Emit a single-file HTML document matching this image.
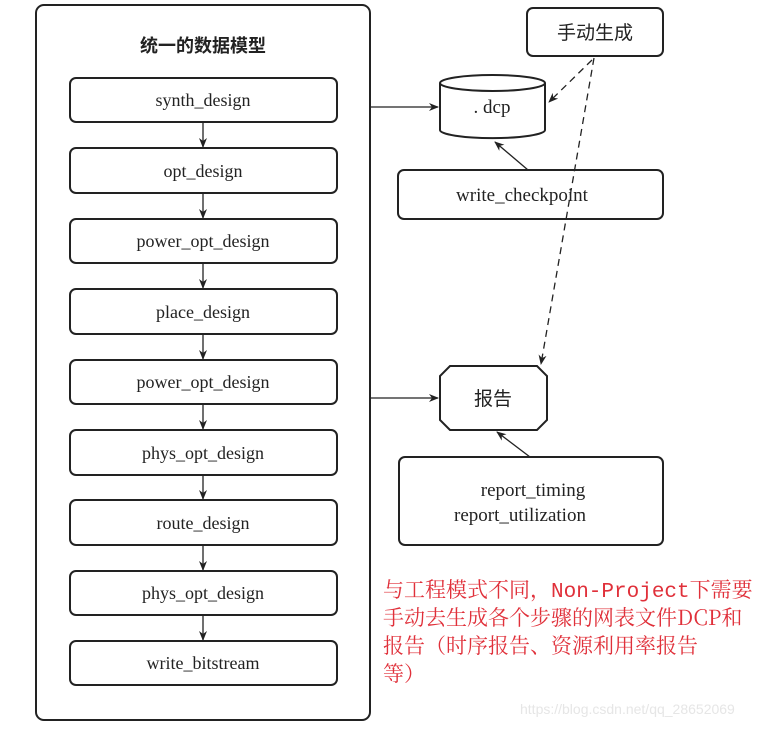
<!DOCTYPE html>
<html><head><meta charset="utf-8"><style>
body{margin:0;width:770px;height:729px;background:#fff;overflow:hidden}
</style></head><body>
<svg width="770" height="729" xmlns="http://www.w3.org/2000/svg" font-family="'Liberation Serif','Noto Serif CJK SC',serif" fill="none" stroke="#222">
<defs><marker id="a" markerWidth="10" markerHeight="8" refX="9" refY="4" orient="auto" markerUnits="userSpaceOnUse"><path d="M0,0 L10,4 L0,8 L3,4 z" fill="#222" stroke="none"/></marker></defs>
<rect x="36" y="5" width="334" height="715" rx="8" stroke-width="2"/>
<text x="203" y="52" font-size="18" font-weight="bold" fill="#222" stroke="none" text-anchor="middle" font-family="'Noto Sans CJK SC',sans-serif">统一的数据模型</text>
<g stroke-width="2">
<rect x="70" y="78" width="267" height="44" rx="6"/>
<rect x="70" y="148" width="267" height="45" rx="6"/>
<rect x="70" y="219" width="267" height="44" rx="6"/>
<rect x="70" y="289" width="267" height="45" rx="6"/>
<rect x="70" y="360" width="267" height="44" rx="6"/>
<rect x="70" y="430" width="267" height="45" rx="6"/>
<rect x="70" y="500" width="267" height="45" rx="6"/>
<rect x="70" y="571" width="267" height="44" rx="6"/>
<rect x="70" y="641" width="267" height="44" rx="6"/>
</g>
<g stroke-width="1.3" marker-end="url(#a)">
<line x1="203" y1="122" x2="203" y2="147"/><line x1="203" y1="193" x2="203" y2="218"/>
<line x1="203" y1="263" x2="203" y2="288"/><line x1="203" y1="334" x2="203" y2="359"/>
<line x1="203" y1="404" x2="203" y2="429"/><line x1="203" y1="475" x2="203" y2="499"/>
<line x1="203" y1="545" x2="203" y2="570"/><line x1="203" y1="615" x2="203" y2="640"/>
</g>
<g font-size="18" fill="#222" stroke="none" text-anchor="middle">
<text x="203" y="106">synth_design</text><text x="203" y="177">opt_design</text>
<text x="203" y="247">power_opt_design</text><text x="203" y="318">place_design</text>
<text x="203" y="388">power_opt_design</text><text x="203" y="459">phys_opt_design</text>
<text x="203" y="529">route_design</text><text x="203" y="599">phys_opt_design</text>
<text x="203" y="669">write_bitstream</text>
</g>
<rect x="527" y="8" width="136" height="48" rx="6" stroke-width="2"/>
<text x="595" y="39" font-size="19" fill="#222" stroke="none" text-anchor="middle" font-family="'Noto Sans CJK SC',sans-serif">手动生成</text>
<path d="M440,83 L440,130 A52,8 0 0 0 545,130 L545,83" stroke-width="2"/>
<ellipse cx="492.5" cy="83" rx="52.5" ry="8" stroke-width="2"/>
<text x="492" y="113" font-size="19" fill="#222" stroke="none" text-anchor="middle">. dcp</text>
<rect x="398" y="170" width="265" height="49" rx="6" stroke-width="2"/>
<text x="522" y="201" font-size="19" fill="#222" stroke="none" text-anchor="middle">write_checkpoint</text>
<path d="M450,366 L537,366 L547,376 L547,420 L537,430 L450,430 L440,420 L440,376 Z" stroke-width="2"/>
<text x="493" y="405" font-size="19" fill="#222" stroke="none" text-anchor="middle" font-family="'Noto Sans CJK SC',sans-serif">报告</text>
<rect x="399" y="457" width="264" height="88" rx="6" stroke-width="2"/>
<text x="533" y="496" font-size="19" fill="#222" stroke="none" text-anchor="middle">report_timing</text>
<text x="520" y="521" font-size="19" fill="#222" stroke="none" text-anchor="middle">report_utilization</text>
<g stroke-width="1.3" marker-end="url(#a)">
<line x1="370" y1="107" x2="438" y2="107"/>
<line x1="370" y1="398" x2="438" y2="398"/>
<line x1="528" y1="170" x2="495" y2="142"/>
<line x1="530" y1="457" x2="497" y2="432"/>
<line x1="592" y1="60" x2="549" y2="102" stroke-dasharray="7,5"/>
<line x1="594" y1="58" x2="541" y2="364" stroke-dasharray="7,5"/>
</g>
<g font-size="21" fill="#e0303a" stroke="none" font-family="'Noto Serif CJK SC','Noto Sans CJK SC',serif">
<text x="383" y="597">与工程模式不同，<tspan font-family="'Liberation Mono',monospace">Non-Project</tspan>下需要</text>
<text x="383" y="625">手动去生成各个步骤的网表文件DCP和</text>
<text x="383" y="653">报告（时序报告、资源利用率报告</text>
<text x="383" y="681">等）</text>
</g>
<text x="520" y="714" font-size="14" fill="#e6e6e6" stroke="none" font-family="'Liberation Sans',sans-serif">https://blog.csdn.net/qq_28652069</text>
</svg>
</body></html>
